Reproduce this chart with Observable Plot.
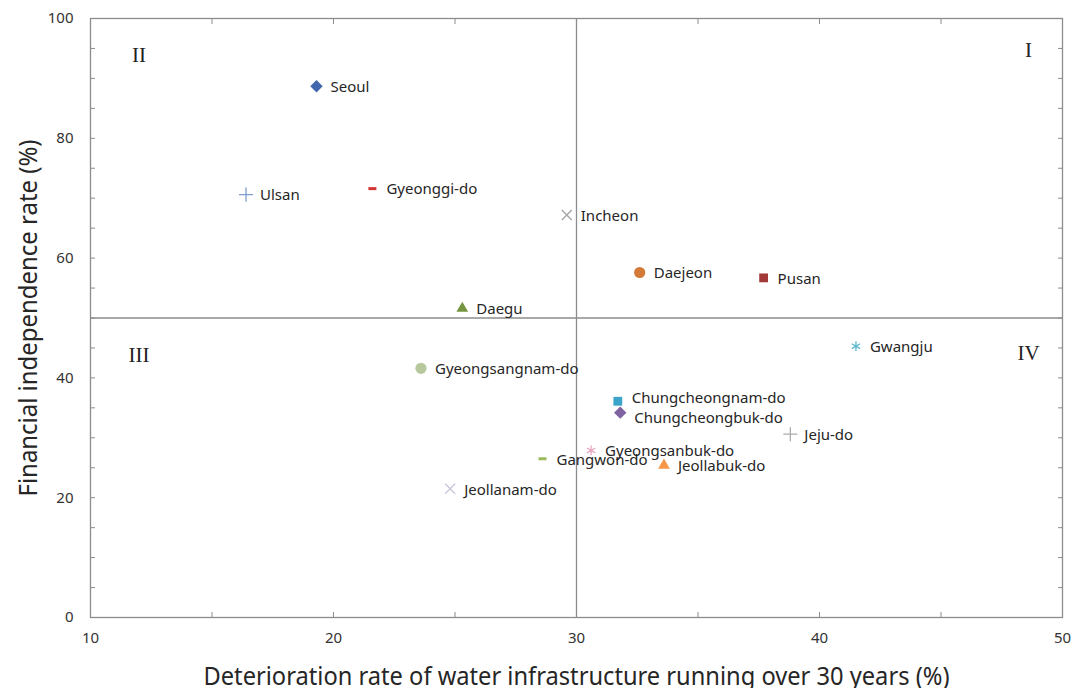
<!DOCTYPE html>
<html>
<head>
<meta charset="utf-8">
<script src="https://cdn.jsdelivr.net/npm/d3@7"></script>
<script src="https://cdn.jsdelivr.net/npm/@observablehq/plot@0.6"></script>
<style>
  html, body { margin: 0; padding: 0; background: #fff; }
  #chart { width: 1077px; height: 688px; }
</style>
</head>
<body>
<div id="chart"></div>
<script>
// ---- data ----
const regions = ["Seoul", "Ulsan", "Gyeonggi-do", "Incheon", "Daejeon", "Pusan", "Daegu",
  "Gwangju", "Gyeongsangnam-do", "Chungcheongnam-do", "Chungcheongbuk-do", "Jeju-do",
  "Gyeongsanbuk-do", "Gangwon-do", "Jeollabuk-do", "Jeollanam-do"];
const deterioration = [19.3, 16.4, 21.6, 29.6, 32.6, 37.7, 25.3, 41.5, 23.6, 31.7, 31.8, 38.8, 30.6, 28.6, 33.6, 24.8];
const independence  = [88.7, 70.6, 71.6, 67.2, 57.6, 56.7, 51.6, 45.3, 41.6, 36.1, 34.2, 30.6, 27.9, 26.5, 25.4, 21.5];
const markers = ["diamond2", "plus", "dash", "times", "circle", "square2", "triangle2", "asterisk",
  "circle", "square2", "diamond2", "plus", "asterisk", "dash", "triangle2", "times"];
const colors = ["#4168ad", "#7d9ccf", "#d3342f", "#a3a3a3", "#d47a38", "#a33a3a", "#76953f", "#5cb8cf",
  "#b7c99c", "#3aa5c9", "#8064a2", "#ababab", "#e8a8c2", "#9bbb59", "#f79646", "#c9c4da"];

const xTickLabels = [10, 20, 30, 40, 50];
const yTickLabels = [0, 20, 40, 60, 80, 100];
const xMinorTicks = [15, 20, 25, 30, 35, 40, 45];
const yMinorTicks = [5, 10, 15, 20, 25, 30, 35, 40, 45, 50, 55, 60, 65, 70, 75, 80, 85, 90, 95];
const quadrants = [
  {label: "II", x: 12, y: 93.8},
  {label: "I", x: 48.6, y: 94.7},
  {label: "III", x: 12, y: 43.8},
  {label: "IV", x: 48.6, y: 44.1}
];
const xDivider = [30];
const yDivider = [50];
const xTitle = "Deterioration rate of water infrastructure running over 30 years (%)";
const yTitle = "Financial independence rate (%)";

// ---- build table ----
const filledSet = new Set(["diamond2", "circle", "square2", "triangle2"]);
const dash = {draw(ctx, size) { const w = Math.sqrt(size) * 0.45; ctx.moveTo(-w, 0); ctx.lineTo(w, 0); }};
const table = regions.map((name, i) => ({
  name, x: deterioration[i], y: independence[i], marker: markers[i], color: colors[i],
  filled: filledSet.has(markers[i])
}));
// label nudges for the two crowded Chungcheong labels
const nudgeUp = new Set(["Chungcheongnam-do"]);
const nudgeDown = new Set(["Chungcheongbuk-do"]);

const font = "'Noto Sans', 'Open Sans', sans-serif";
const axisColor = "#8c8c8c";
const labelStyle = {x: "x", y: "y", text: "name", dx: 14, textAnchor: "start", fontSize: 15, fill: "#262626"};

const plot = Plot.plot({
  width: 1077,
  height: 688,
  marginLeft: 90,
  marginRight: 15,
  marginTop: 18,
  marginBottom: 71,
  style: {fontFamily: font, background: "#fff", color: "#333"},
  x: {domain: [10, 50]},
  y: {domain: [0, 100]},
  marks: [
    Plot.frame({stroke: axisColor, strokeWidth: 1.3}),
    Plot.ruleX(xDivider, {stroke: axisColor, strokeWidth: 1.3}),
    Plot.ruleY(yDivider, {stroke: axisColor, strokeWidth: 1.3}),
    // inward minor ticks
    Plot.axisX(xMinorTicks, {anchor: "bottom", tickSize: -5, tickFormat: () => "", stroke: axisColor, label: null}),
    Plot.axisX(xMinorTicks, {anchor: "top", tickSize: -5, tickFormat: () => "", stroke: axisColor, label: null}),
    Plot.axisY(yMinorTicks, {anchor: "left", tickSize: -5, tickFormat: () => "", stroke: axisColor, label: null}),
    Plot.axisY(yMinorTicks, {anchor: "right", tickSize: -5, tickFormat: () => "", stroke: axisColor, label: null}),
    // tick labels
    Plot.axisX(xTickLabels, {anchor: "bottom", tickSize: 0, tickPadding: 15, fontSize: 15, fill: "#333", label: null}),
    Plot.axisY(yTickLabels, {anchor: "left", tickSize: 0, tickPadding: 17, fontSize: 15, fill: "#333", label: null}),
    // axis titles
    Plot.text([xTitle], {frameAnchor: "bottom", dy: 59, textAnchor: "middle", lineAnchor: "middle", fontSize: 26, fill: "#262626"}),
    Plot.text([yTitle], {frameAnchor: "left", dx: -62, rotate: -90, textAnchor: "middle", lineAnchor: "middle", fontSize: 26, fill: "#262626"}),
    // points
    Plot.dot(table.filter(d => d.filled), {x: "x", y: "y", symbol: "marker", fill: "color", r: 5.6}),
    Plot.dot(table.filter(d => !d.filled && d.marker !== "dash"), {x: "x", y: "y", symbol: "marker", stroke: "color", fill: "none", r: 4.6, strokeWidth: 1.3}),
    Plot.dot(table.filter(d => d.marker === "dash"), {x: "x", y: "y", symbol: dash, stroke: "color", fill: "none", r: 5, strokeWidth: 3}),
    // labels
    Plot.text(table.filter(d => !nudgeUp.has(d.name) && !nudgeDown.has(d.name)), {...labelStyle, dy: 1}),
    Plot.text(table.filter(d => nudgeUp.has(d.name)), {...labelStyle, dy: -3}),
    Plot.text(table.filter(d => nudgeDown.has(d.name)), {...labelStyle, dy: 6}),
    // quadrant numerals
    Plot.text(quadrants, {x: "x", y: "y", text: "label", fontSize: 21,
      fontFamily: "'Liberation Serif', 'DejaVu Serif', serif", fill: "#222"})
  ]
});
// fit the axis titles to the reference's narrower type
d3.select(plot).selectAll("text").each(function () {
  if (this.textContent === xTitle) { this.setAttribute("textLength", 746); this.setAttribute("lengthAdjust", "spacingAndGlyphs"); }
  if (this.textContent === yTitle) { this.setAttribute("textLength", 357); this.setAttribute("lengthAdjust", "spacingAndGlyphs"); }
});
document.getElementById("chart").appendChild(plot);
</script>
</body>
</html>
